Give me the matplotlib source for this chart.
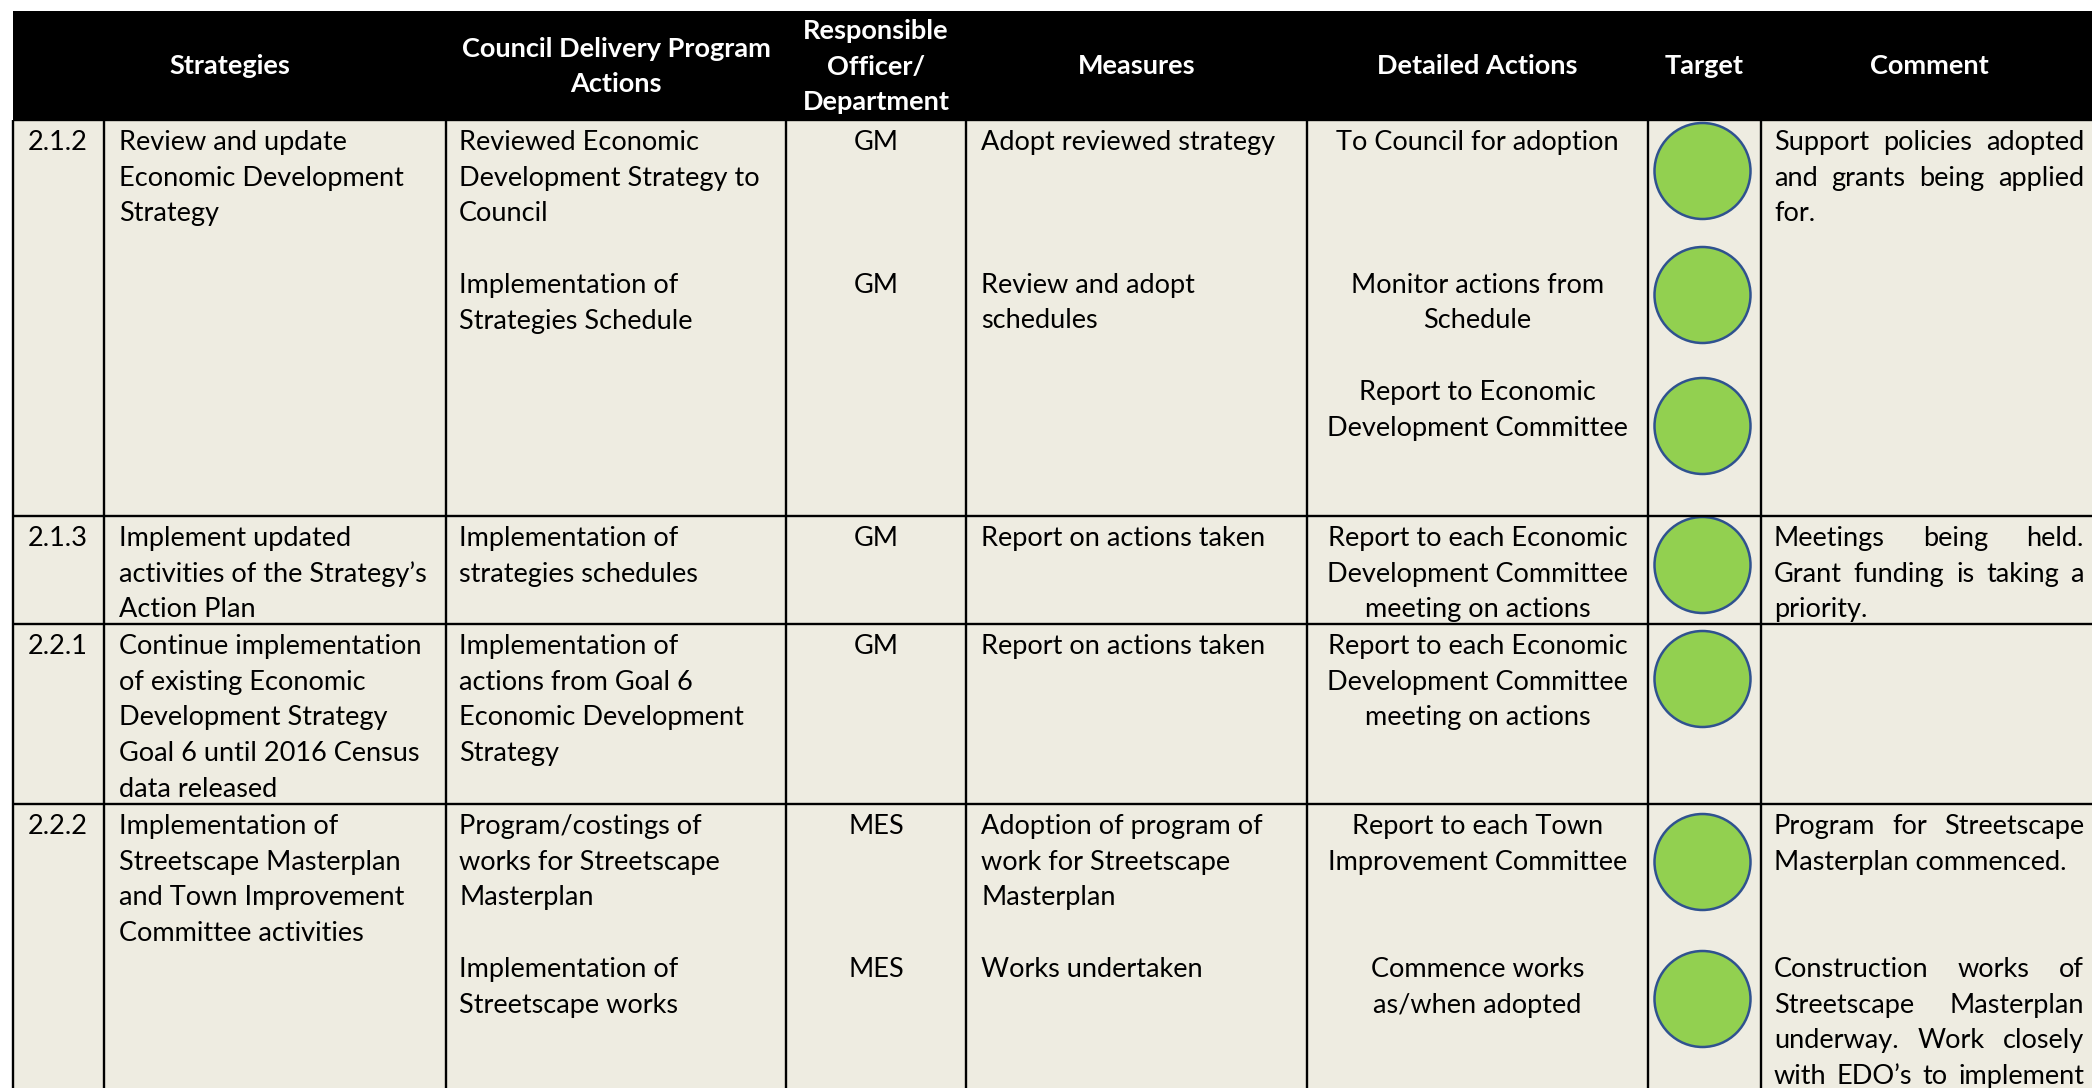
import matplotlib.pyplot as plt
from matplotlib.patches import Rectangle, Circle

plt.rcParams['font.family'] = ['Lato', 'DejaVu Sans']

# ---- table content ----
headers = ['Strategies', 'Council Delivery Program\nActions', 'Responsible\nOfficer/\nDepartment',
           'Measures', 'Detailed Actions', 'Target', 'Comment']
item_ids = ['2.1.2', '2.1.3', '2.2.1', '2.2.2']
strategies = [
    ['Review and update', 'Economic Development', 'Strategy'],
    ['Implement updated', 'activities of the Strategy\u2019s', 'Action Plan'],
    ['Continue implementation', 'of existing Economic', 'Development Strategy',
     'Goal 6 until 2016 Census', 'data released'],
    ['Implementation of', 'Streetscape Masterplan', 'and Town Improvement', 'Committee activities'],
]
# each cell: list of (starting line, lines)
program_actions = [
    [(0, ['Reviewed Economic', 'Development Strategy to', 'Council']),
     (4, ['Implementation of', 'Strategies Schedule'])],
    [(0, ['Implementation of', 'strategies schedules'])],
    [(0, ['Implementation of', 'actions from Goal 6', 'Economic Development', 'Strategy'])],
    [(0, ['Program/costings of', 'works for Streetscape', 'Masterplan']),
     (4, ['Implementation of', 'Streetscape works'])],
]
officers = [
    [(0, ['GM']), (4, ['GM'])],
    [(0, ['GM'])],
    [(0, ['GM'])],
    [(0, ['MES']), (4, ['MES'])],
]
measures = [
    [(0, ['Adopt reviewed strategy']), (4, ['Review and adopt', 'schedules'])],
    [(0, ['Report on actions taken'])],
    [(0, ['Report on actions taken'])],
    [(0, ['Adoption of program of', 'work for Streetscape', 'Masterplan']), (4, ['Works undertaken'])],
]
detailed_actions = [
    [(0, ['To Council for adoption']), (4, ['Monitor actions from', 'Schedule']),
     (7, ['Report to Economic', 'Development Committee'])],
    [(0, ['Report to each Economic', 'Development Committee', 'meeting on actions'])],
    [(0, ['Report to each Economic', 'Development Committee', 'meeting on actions'])],
    [(0, ['Report to each Town', 'Improvement Committee']), (4, ['Commence works', 'as/when adopted'])],
]
targets = [['green', 'green', 'green'], ['green'], ['green'], ['green', 'green']]
# (starting line, lines, paragraph ends in view)
comments = [
    [(0, ['Support policies adopted', 'and grants being applied', 'for.'], True)],
    [(0, ['Meetings being held.', 'Grant funding is taking a', 'priority.'], True)],
    [],
    [(0, ['Program for Streetscape', 'Masterplan commenced.'], True),
     (4, ['Construction works of', 'Streetscape Masterplan', 'underway. Work closely',
          'with EDO\u2019s to implement'], False)],
]
status_colors = {'green': '#92D050'}

# ---- layout (pixels) ----
W, H = 2092, 1088
COL_X = [13, 104, 446, 786, 966, 1307, 1648, 1761, W + 5]
HEAD_TOP, HEAD_BOT = 11, 120
ROW_Y = [120, 516, 624, 804, H + 5]
LH = 35.7
FIRST_BASE = 30
TARGET_DY = [[51, 175, 306], [49], [55], [58, 195]]
FS = 19.5
PAD = 15
CELL_BG = '#EEECE1'
LW = 1.7

fig = plt.figure(figsize=(W / 100, H / 100), dpi=100)
ax = fig.add_axes([0, 0, 1, 1])
ax.set_xlim(0, W)
ax.set_ylim(H, 0)
ax.axis('off')
renderer = fig.canvas.get_renderer()

ax.add_patch(Rectangle((COL_X[0], HEAD_TOP), W - COL_X[0] + 10, HEAD_BOT - HEAD_TOP, color='black', lw=0))
ax.add_patch(Rectangle((COL_X[0], HEAD_BOT), W - COL_X[0] + 10, H - HEAD_BOT + 10, color=CELL_BG, lw=0))

# header: first title spans the id column too
head_spans = [(COL_X[0], COL_X[2])] + [(COL_X[i], COL_X[i + 1]) for i in range(2, 8)]
mid = (HEAD_TOP + HEAD_BOT) / 2
for (x0, x1), h in zip(head_spans, headers):
    lines = h.split('\n')
    for i, s in enumerate(lines):
        yc = mid + (i - (len(lines) - 1) / 2) * LH
        ax.text((x0 + x1) / 2, yc + 9, s, ha='center', va='baseline', color='white',
                fontsize=FS, fontweight='bold')

# grid lines
for y in ROW_Y[:-1]:
    ax.plot([COL_X[0], W], [y, y], color='black', lw=LW, solid_capstyle='butt')
for x in COL_X[:-1]:
    ax.plot([x, x], [HEAD_BOT, H], color='black', lw=LW, solid_capstyle='butt')


def put_block(x, base, lines, ha='left'):
    for i, s in enumerate(lines):
        ax.text(x, base + i * LH, s, ha=ha, va='baseline', fontsize=FS, color='black')


def put_justified(x0, x1, base, lines, flush_last):
    for i, s in enumerate(lines):
        y = base + i * LH
        words = s.split()
        if (flush_last and i == len(lines) - 1) or len(words) == 1:
            ax.text(x0, y, s, ha='left', va='baseline', fontsize=FS)
            continue
        texts = [ax.text(0, y, w, ha='left', va='baseline', fontsize=FS) for w in words]
        widths = [t.get_window_extent(renderer).width for t in texts]
        gap = (x1 - x0 - sum(widths)) / (len(words) - 1)
        xx = x0
        for t, wd in zip(texts, widths):
            t.set_x(xx)
            xx += wd + gap


for r in range(len(item_ids)):
    base = ROW_Y[r] + FIRST_BASE
    put_block(COL_X[0] + PAD, base, [item_ids[r]])
    put_block(COL_X[1] + PAD, base, strategies[r])
    for start, lines in program_actions[r]:
        put_block(COL_X[2] + PAD - 2, base + start * LH, lines)
    for start, lines in officers[r]:
        put_block((COL_X[3] + COL_X[4]) / 2, base + start * LH, lines, ha='center')
    for start, lines in measures[r]:
        put_block(COL_X[4] + PAD, base + start * LH, lines)
    for start, lines in detailed_actions[r]:
        put_block((COL_X[5] + COL_X[6]) / 2, base + start * LH, lines, ha='center')
    for status, dy in zip(targets[r], TARGET_DY[r]):
        ax.add_patch(Circle(((COL_X[6] + COL_X[7]) / 2 - 2, ROW_Y[r] + dy), 48,
                            facecolor=status_colors[status], edgecolor='#2F528F', lw=1.8))
    for start, lines, flush in comments[r]:
        put_justified(COL_X[7] + 13, W - 8, base + start * LH, lines, flush)

fig.savefig('out.png', dpi=100)
